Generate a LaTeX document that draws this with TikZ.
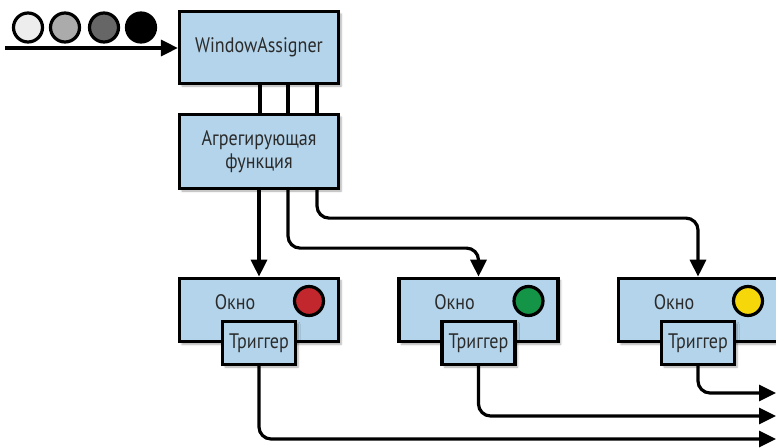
\documentclass[tikz,border=0pt]{standalone}
\usepackage{fontspec}
\setmainfont{PT Sans}[FakeStretch=0.86]
\usetikzlibrary{arrows.meta,shadows.blur}
\definecolor{boxblue}{HTML}{B3D4EA}
\definecolor{textgray}{HTML}{2B2B2B}
\definecolor{lampred}{HTML}{C1272D}
\definecolor{lampgreen}{HTML}{139447}
\definecolor{lampyellow}{HTML}{F6D70A}
\begin{document}
\begin{tikzpicture}[x=1pt, y=-1pt, line width=3.2pt,
	box/.style={draw, fill=boxblue, inner sep=0pt, text=textgray,
		font=\fontsize{21}{23}\selectfont,
		blur shadow={shadow xshift=2.5pt, shadow yshift=-2.5pt, shadow blur steps=4, shadow opacity=35}},
	lbl/.style={text=textgray, font=\fontsize{21}{23}\selectfont, inner sep=0pt},
	lamp/.style={circle, draw, minimum size=29pt, inner sep=0pt},
	flow/.style={-{Triangle[length=17pt, width=16pt]}, rounded corners=12pt}]
		\clip (0,0) rectangle (776,447);
		\foreach \x/\c/\name in {28/black!7/a, 65/black!33/b, 104/black!60/c, 141/black/d} {
			\node[lamp, fill=\c] (dot\name) at (\x, 27.5) {};
		}
		\coordinate (in) at (5, 48);
		\node[box, minimum width=159pt, minimum height=72pt] (wa) at (259, 47.5) {WindowAssigner};
		\node[box, minimum width=159pt, minimum height=74pt, align=center] (agg) at (259, 151.5) {Агрегирующая\\функция};
		\foreach \i/\x/\c in {1/259/lampred, 2/478.5/lampgreen, 3/698/lampyellow} {
			\node[box, minimum width=159pt, minimum height=63.5pt] (win\i) at (\x, 310) {};
			\node[lbl] (okno\i) at (\x-24, 302) {Окно};
			\node[lamp, fill=\c] (lamp\i) at (\x+50, 301) {};
			\node[box, minimum width=73pt, minimum height=43pt] (trig\i) at (\x, 343) {Триггер};
		}
		\coordinate (c1) at (260, 0);
		\coordinate (c2) at (288, 0);
		\coordinate (c3) at (317, 0);
		\coordinate (out1) at (776, 439);
		\coordinate (out2) at (776, 416);
		\coordinate (out3) at (776, 393);
		
		\draw[flow] (in) -- (wa.west |- in);
		\draw (wa.south -| c1) -- (agg.north -| c1);
		\draw (wa.south -| c2) -- (agg.north -| c2);
		\draw (wa.south -| c3) -- (agg.north -| c3);
		\draw[flow] (agg.south) -- (win1.north);
		\draw[flow] (agg.south -| c2) -- ++(0, 58) -| (win2.north);
		\draw[flow] (agg.south -| c3) -- ++(0, 28) -| (win3.north);
		\draw[flow] (trig1.south) |- (out1);
		\draw[flow] (trig2.south) |- (out2);
		\draw[flow] (trig3.south) |- (out3);
	\end{tikzpicture}
\end{document}
